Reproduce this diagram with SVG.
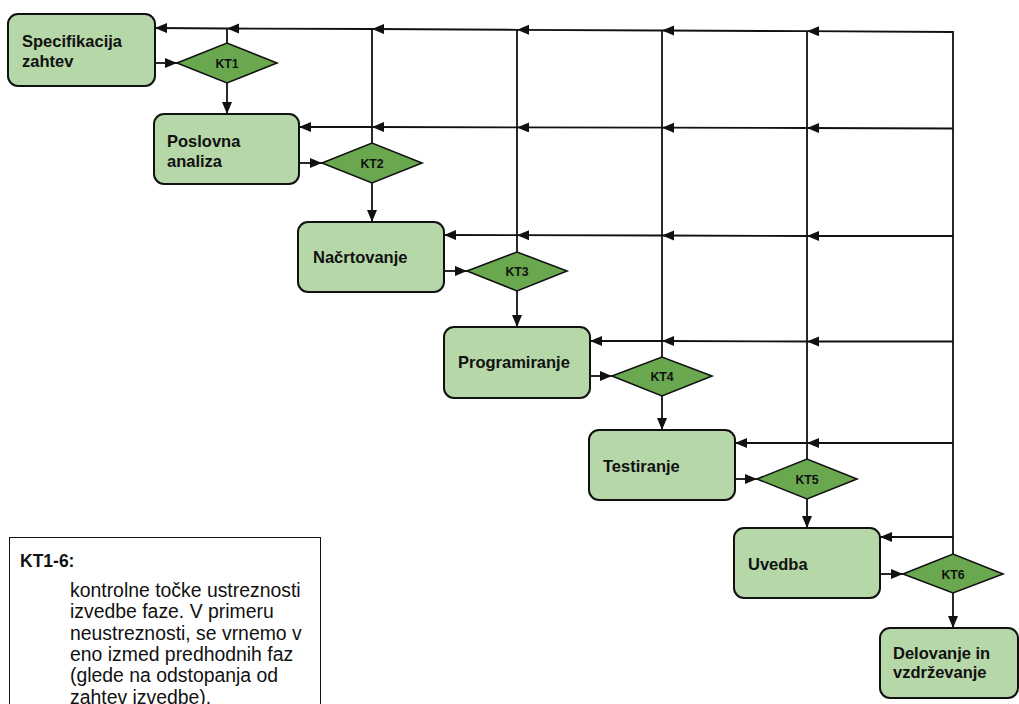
<svg xmlns="http://www.w3.org/2000/svg" width="1019" height="704" viewBox="0 0 1019 704">
  <style>
    .phase { fill: #b6d7a8; stroke: #111; stroke-width: 2; }
    .gate { fill: #6aa84f; stroke: #111; stroke-width: 1.6; }
    .lbl { font-family: "Liberation Sans", Arial, sans-serif; font-weight: bold; font-size: 16.5px; fill: #111; }
    .kt { font-family: "Liberation Sans", Arial, sans-serif; font-weight: bold; font-size: 12.3px; fill: #111; text-anchor: middle; }
    .wire { fill: none; stroke: #111; stroke-width: 1.8; }
    .arr { marker-end: url(#head); }
    .note { fill: #fff; stroke: #111; stroke-width: 1; }
    .nt { font-family: "Liberation Sans", Arial, sans-serif; font-size: 19.4px; fill: #111; }
    .nh { font-family: "Liberation Sans", Arial, sans-serif; font-weight: bold; font-size: 17.5px; fill: #111; }
  </style>
  <defs>
    <marker id="head" markerUnits="userSpaceOnUse" markerWidth="13" markerHeight="11" refX="12" refY="5" orient="auto">
      <path d="M0,0 L12,5 L0,10 Z" fill="#111"/>
    </marker>
  </defs>

  <rect width="1019" height="704" fill="#fff"/>

  <!-- connectors -->
  <g id="connectors">
    <!-- phase to checkpoint -->
    <line class="wire arr" x1="155" y1="63" x2="177" y2="63"/>
    <line class="wire arr" x1="299" y1="163" x2="322" y2="163"/>
    <line class="wire arr" x1="444" y1="271" x2="467" y2="271"/>
    <line class="wire arr" x1="590" y1="376" x2="612" y2="376"/>
    <line class="wire arr" x1="735" y1="479" x2="757" y2="479"/>
    <line class="wire arr" x1="880" y1="574" x2="903" y2="574"/>
    <!-- checkpoint to next phase -->
    <line class="wire arr" x1="227" y1="83" x2="227" y2="114"/>
    <line class="wire arr" x1="372" y1="183" x2="372" y2="222"/>
    <line class="wire arr" x1="517" y1="291" x2="517" y2="327"/>
    <line class="wire arr" x1="662" y1="396" x2="662" y2="430"/>
    <line class="wire arr" x1="807" y1="499" x2="807" y2="528"/>
    <line class="wire arr" x1="953" y1="593" x2="953" y2="628"/>
    <!-- return risers -->
    <line class="wire" x1="227" y1="43" x2="227" y2="28.5"/>
    <line class="wire" x1="372" y1="143" x2="372" y2="29"/>
    <line class="wire" x1="517" y1="252" x2="517" y2="29.8"/>
    <line class="wire" x1="662" y1="357" x2="662" y2="30.5"/>
    <line class="wire" x1="807" y1="459" x2="807" y2="31.2"/>
    <polyline class="wire" points="953,554 953,32 952,32"/>
    <!-- return row 1 -->
    <line class="wire arr" x1="953" y1="32" x2="807" y2="31.2"/>
    <line class="wire arr" x1="807" y1="31.2" x2="662" y2="30.5"/>
    <line class="wire arr" x1="662" y1="30.5" x2="517" y2="29.8"/>
    <line class="wire arr" x1="517" y1="29.8" x2="372" y2="29"/>
    <line class="wire arr" x1="372" y1="29" x2="227" y2="28.5"/>
    <line class="wire arr" x1="227" y1="28.5" x2="155" y2="28"/>
    <!-- return row 2 -->
    <line class="wire arr" x1="953" y1="128.5" x2="807" y2="128"/>
    <line class="wire arr" x1="807" y1="128" x2="662" y2="127.7"/>
    <line class="wire arr" x1="662" y1="127.7" x2="517" y2="127.4"/>
    <line class="wire arr" x1="517" y1="127.4" x2="372" y2="127"/>
    <line class="wire arr" x1="372" y1="127" x2="299" y2="127"/>
    <!-- return row 3 -->
    <line class="wire arr" x1="953" y1="236" x2="807" y2="236"/>
    <line class="wire arr" x1="807" y1="236" x2="662" y2="235.5"/>
    <line class="wire arr" x1="662" y1="235.5" x2="517" y2="235.2"/>
    <line class="wire arr" x1="517" y1="235.2" x2="444" y2="235"/>
    <!-- return row 4 -->
    <line class="wire arr" x1="953" y1="341.5" x2="807" y2="341.5"/>
    <line class="wire arr" x1="807" y1="341.5" x2="662" y2="341"/>
    <line class="wire arr" x1="662" y1="341" x2="590" y2="341"/>
    <!-- return row 5 -->
    <line class="wire arr" x1="953" y1="443" x2="807" y2="443"/>
    <line class="wire arr" x1="807" y1="443" x2="735" y2="443"/>
    <!-- return row 6 -->
    <line class="wire arr" x1="953" y1="537" x2="880" y2="537"/>
  </g>

  <!-- phases -->
  <g id="phase-spec">
    <rect class="phase" x="8" y="14" width="147" height="72" rx="10"/>
    <text class="lbl" x="22" y="47">Specifikacija</text>
    <text class="lbl" x="22" y="67">zahtev</text>
  </g>
  <g id="phase-analysis">
    <rect class="phase" x="154" y="114" width="145" height="70" rx="10"/>
    <text class="lbl" x="167" y="147">Poslovna</text>
    <text class="lbl" x="167" y="167">analiza</text>
  </g>
  <g id="phase-design">
    <rect class="phase" x="298" y="222" width="146" height="70" rx="10"/>
    <text class="lbl" x="313" y="263">Načrtovanje</text>
  </g>
  <g id="phase-coding">
    <rect class="phase" x="444" y="327" width="146" height="71" rx="10"/>
    <text class="lbl" x="458" y="368">Programiranje</text>
  </g>
  <g id="phase-testing">
    <rect class="phase" x="589" y="430" width="146" height="70" rx="10"/>
    <text class="lbl" x="603" y="472">Testiranje</text>
  </g>
  <g id="phase-deploy">
    <rect class="phase" x="734" y="528" width="146" height="70" rx="10"/>
    <text class="lbl" x="748" y="570">Uvedba</text>
  </g>
  <g id="phase-operation">
    <rect class="phase" x="880" y="628" width="138" height="70" rx="10"/>
    <text class="lbl" x="893" y="659">Delovanje in</text>
    <text class="lbl" x="893" y="678">vzdrževanje</text>
  </g>

  <!-- checkpoints -->
  <g id="kt1">
    <polygon class="gate" points="177,63 227,43 277,63 227,83"/>
    <text class="kt" x="227" y="67.5">KT1</text>
  </g>
  <g id="kt2">
    <polygon class="gate" points="322,163 372,143 422,163 372,183"/>
    <text class="kt" x="372" y="167.5">KT2</text>
  </g>
  <g id="kt3">
    <polygon class="gate" points="467,271 517,252 567,271 517,291"/>
    <text class="kt" x="517" y="275.5">KT3</text>
  </g>
  <g id="kt4">
    <polygon class="gate" points="612,376 662,357 712,376 662,396"/>
    <text class="kt" x="662" y="380.5">KT4</text>
  </g>
  <g id="kt5">
    <polygon class="gate" points="757,479 807,459 857,479 807,499"/>
    <text class="kt" x="807" y="483.5">KT5</text>
  </g>
  <g id="kt6">
    <polygon class="gate" points="903,574 953,554 1003,574 953,593"/>
    <text class="kt" x="953" y="578.5">KT6</text>
  </g>

  <!-- legend; its lower part runs past the page edge -->
  <g id="legend">
    <rect class="note" x="9.5" y="537.5" width="311" height="200"/>
    <text class="nh" x="20" y="567">KT1-6:</text>
    <text class="nt" x="70" y="597">kontrolne točke ustreznosti</text>
    <text class="nt" x="70" y="618.3">izvedbe faze. V primeru</text>
    <text class="nt" x="70" y="639.6">neustreznosti, se vrnemo v</text>
    <text class="nt" x="70" y="661">eno izmed predhodnih faz</text>
    <text class="nt" x="70" y="682.3">(glede na odstopanja od</text>
    <text class="nt" x="70" y="703.6">zahtev izvedbe).</text>
  </g>
</svg>
